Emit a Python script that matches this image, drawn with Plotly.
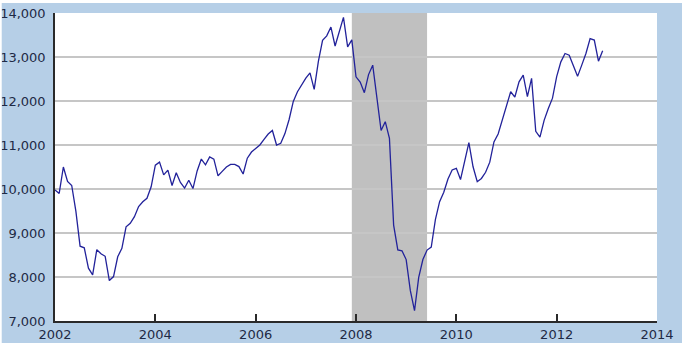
import plotly.graph_objects as go

# Monthly average index values, Jan..Dec for each year
years = list(range(2002, 2013))
values_by_year = {
    2002: [9980, 9900, 10500, 10170, 10080, 9490, 8700, 8664, 8200, 8050, 8620, 8530],
    2003: [8470, 7920, 8010, 8460, 8650, 9140, 9220, 9370, 9600, 9710, 9790, 10050],
    2004: [10540, 10610, 10320, 10430, 10080, 10370, 10150, 10020, 10200, 10010, 10410, 10680],
    2005: [10550, 10730, 10680, 10300, 10400, 10500, 10560, 10560, 10510, 10340, 10700, 10840],
    2006: [10920, 11000, 11130, 11250, 11330, 11000, 11040, 11260, 11580, 11990, 12210, 12380],
    2007: [12520, 12640, 12265, 12900, 13380, 13480, 13680, 13250, 13570, 13900, 13230, 13390],
    2008: [12550, 12430, 12190, 12600, 12815, 12100, 11330, 11530, 11150, 9180, 8614, 8596],
    2009: [8396, 7690, 7236, 7992, 8398, 8612, 8679, 9310, 9712, 9925, 10226, 10434],
    2010: [10471, 10215, 10650, 11055, 10505, 10165, 10240, 10380, 10610, 11070, 11250, 11560],
    2011: [11860, 12210, 12090, 12435, 12590, 12098, 12515, 11310, 11180, 11560, 11830, 12065],
    2012: [12553, 12890, 13080, 13040, 12800, 12560, 12815, 13080, 13420, 13386, 12905, 13144],
}
recession_start = (2007, 12)
recession_end = (2009, 6)
x_ticks = [2002, 2004, 2006, 2008, 2010, 2012, 2014]
y_ticks = [7000, 8000, 9000, 10000, 11000, 12000, 13000, 14000]
y_tick_labels = ["7,000", "8,000", "9,000", "10,000", "11,000", "12,000", "13,000", "14,000"]

xs, ys = [], []
for yr in years:
    for m, v in enumerate(values_by_year[yr]):
        xs.append(yr + m / 12.0)
        ys.append(v)

def ym(t):
    return t[0] + (t[1] - 1) / 12.0

BLUE_BG = "#b6cfe7"
TXT = "#1e2a45"

fig = go.Figure()
fig.add_trace(go.Scatter(x=xs, y=ys, mode="lines",
                         line=dict(color="#22229a", width=1.3),
                         hoverinfo="skip", showlegend=False))

shapes = [
    dict(type="rect", xref="x", yref="paper", x0=ym(recession_start), x1=ym(recession_end),
         y0=0, y1=1, fillcolor="#c0c0c0", line=dict(width=0), layer="between"),
    # thin white outer border (top, left, bottom)
    dict(type="rect", xref="paper", yref="paper", x0=-0.2, x1=1.2, y0=1.0325, y1=1.2,
         fillcolor="white", line=dict(width=0), layer="above"),
    dict(type="rect", xref="paper", yref="paper", x0=-0.2, x1=-0.0885, y0=-0.2, y1=1.2,
         fillcolor="white", line=dict(width=0), layer="above"),
    dict(type="rect", xref="paper", yref="paper", x0=-0.2, x1=1.2, y0=-0.2, y1=-0.0715,
         fillcolor="white", line=dict(width=0), layer="below"),
]

fig.update_layout(
    width=682, height=347,
    margin=dict(l=55, r=25, t=13, b=26, pad=0),
    paper_bgcolor=BLUE_BG, plot_bgcolor="white",
    font=dict(family="DejaVu Sans, Verdana, sans-serif", size=13, color=TXT),
    shapes=shapes,
    xaxis=dict(range=[2002, 2014], tickvals=x_ticks, ticktext=[str(v) for v in x_ticks],
               showgrid=False, zeroline=False, showline=True, linecolor="#2a2a2a", linewidth=1.5,
               ticks="inside", ticklen=7, tickcolor="#2a2a2a", tickwidth=1.5,
               ticklabelstandoff=1, automargin=False, fixedrange=True),
    yaxis=dict(range=[7000, 14000], tickvals=y_ticks, ticktext=y_tick_labels,
               showgrid=True, gridcolor="#c6c6c6", gridwidth=1.6, zeroline=False,
               showline=True, linecolor="#2a2a2a", linewidth=1.5,
               ticks="", ticklabelstandoff=5, automargin=False, fixedrange=True),
)

fig.write_html("out.html")
